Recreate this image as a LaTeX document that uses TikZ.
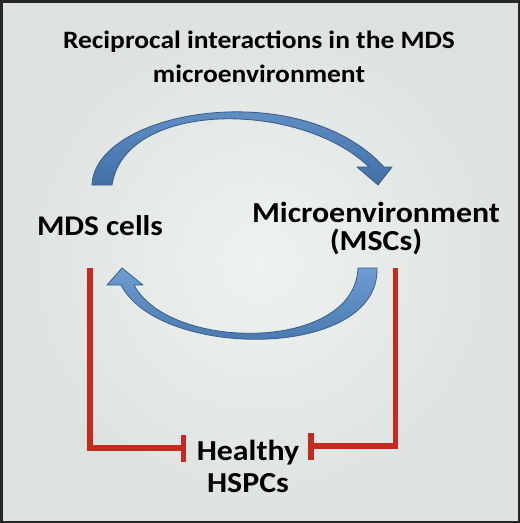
\documentclass[tikz,border=0pt]{standalone}
\usepackage{fontspec}
\setmainfont{Carlito}[FakeStretch=1.1]
\usetikzlibrary{arrows.meta}
\definecolor{bgin}{HTML}{EEF2F0}
\definecolor{bgout}{HTML}{DDE1DF}
\definecolor{inh}{HTML}{C42A1E}
\definecolor{arrtop}{HTML}{6E9DD2}
\definecolor{arrbot}{HTML}{416FA8}
\definecolor{arredge}{HTML}{3A5B87}
\tikzset{
  lbl/.style={text=black, inner sep=0pt, align=center},
  bluearrow/.style={draw=arredge, line width=0.8pt, top color=arrtop, bottom color=arrbot, line join=round},
  inhibit/.style={draw=inh, line width=5.5pt, -{Bar[width=27pt,line width=5.5pt]}}
}
\begin{document}
\begin{tikzpicture}[x=1pt,y=-1pt]
\useasboundingbox (0,0) rectangle (520,523);
\shade[inner color=bgin, outer color=bgout] (0,0) rectangle (520,523);
\draw[line width=2.5pt, draw=black!85] (1.25,1.25) rectangle (518.75,521.75);
% titles (base anchor = baseline of last line)
\node[lbl, font=\bfseries\fontsize{25}{34}\selectfont, anchor=base] (title) at (259,82)
  {Reciprocal interactions in the MDS\\microenvironment};
\node[lbl, font=\bfseries\fontsize{28.5}{28}\selectfont, anchor=base] (mds) at (100,235) {MDS cells};
\node[lbl, font=\bfseries\fontsize{29}{28}\selectfont, anchor=base] (msc) at (376,250) {Microenvironment\\(MSCs)};
\node[lbl, font=\bfseries\fontsize{29}{32}\selectfont, anchor=base] (hspc) at (248,492) {Healthy\\HSPCs};
% upper curved arrow (MDS -> MSC)
\path[bluearrow] (92,185) .. controls (95,110) and (300,75) .. (384,167)
  -- (392,167) -- (378,185) -- (357,167) -- (369,167)
  .. controls (300,100) and (125,100) .. (112,185) -- cycle;
% lower curved arrow (MSC -> MDS)
\path[bluearrow] (377,268) .. controls (380,360) and (160,360) .. (121,285)
  -- (107,285) -- (122,268) -- (143,285) -- (134,285)
  .. controls (170,352) and (355,352) .. (358,268) -- cycle;
% inhibition lines
\coordinate (l0) at (90,268);
\coordinate (l1) at (90,448);
\coordinate (lb) at (186,448);
\coordinate (r0) at (395.5,268);
\coordinate (r1) at (395.5,446);
\coordinate (rb) at (308,446);
\draw[inhibit, line join=miter] (l0) -- (l1) -- (lb);
\draw[inhibit, line join=miter] (r0) -- (r1) -- (rb);
\end{tikzpicture}
\end{document}
